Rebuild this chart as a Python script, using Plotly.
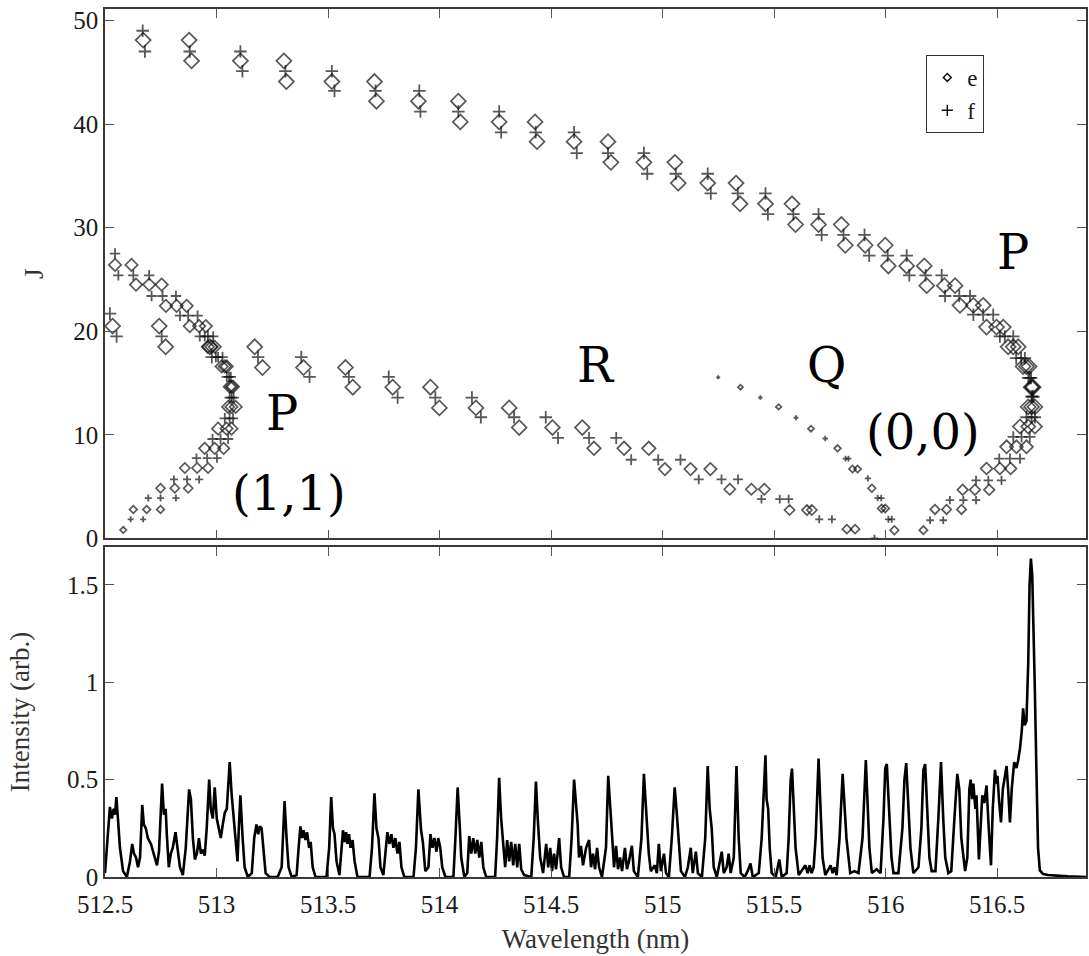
import plotly.graph_objects as go

# ---------------- top panel: line positions (wavelength in nm) grouped by J row ----------------
# P branch (0,0)
p00_e_J = [48.1, 46.1, 44.1, 42.2, 40.2, 38.3, 36.3, 34.3, 32.3, 30.3, 28.3, 26.3, 24.4, 22.5, 20.4,
           18.5, 16.6, 14.6, 12.7, 10.8, 8.85, 6.75, 4.7, 2.8, 0.8]
p00_e_wl = [[512.671, 512.877], [512.888, 513.107, 513.302], [513.313, 513.517, 513.708],
            [513.717, 513.905, 514.084], [514.093, 514.267, 514.428], [514.437, 514.603, 514.755],
            [514.768, 514.916, 515.055], [515.070, 515.202, 515.329], [515.347, 515.461, 515.580],
            [515.596, 515.699, 515.801], [515.819, 515.908, 515.998], [516.012, 516.094, 516.173],
            [516.184, 516.263, 516.311], [516.333, 516.393, 516.437], [516.452, 516.497, 516.527],
            [516.549, 516.572, 516.594], [516.616, 516.631, 516.643], [516.652, 516.657, 516.661],
            [516.639, 516.654, 516.669], [516.602, 516.639, 516.669], [516.542, 516.586, 516.631],
            [516.452, 516.512, 516.560], [516.345, 516.400, 516.464], [516.221, 516.273, 516.340],
            [516.169]]
p00_f_J = [49.0, 47.0, 45.1, 43.2, 41.2, 39.2, 37.2, 35.2, 33.3, 31.3, 29.3, 27.3, 25.4, 23.4, 21.6,
           19.5, 17.4, 15.5, 13.7, 11.7, 9.8, 7.7, 5.6, 3.7, 1.76]
p00_f_wl = [[512.669], [512.679, 512.880, 513.107], [513.116, 513.309, 513.517],
            [513.529, 513.713, 513.909], [513.914, 514.084, 514.267], [514.276, 514.431, 514.603],
            [514.615, 514.755, 514.916], [514.931, 515.059, 515.202], [515.216, 515.337, 515.461],
            [515.472, 515.586, 515.699], [515.713, 515.811, 515.905], [515.926, 516.009, 516.094],
            [516.106, 516.179, 516.251], [516.266, 516.330, 516.378], [516.393, 516.437, 516.482],
            [516.512, 516.534, 516.572], [516.585, 516.607, 516.624], [516.639, 516.646, 516.652],
            [516.654, 516.658, 516.662], [516.631, 516.654, 516.669], [516.572, 516.609, 516.646],
            [516.509, 516.557, 516.602], [516.405, 516.460, 516.519], [516.288, 516.348, 516.405],
            [516.199, 516.258]]

# R branch (0,0)
r00_e_J = [20.5, 18.5, 16.5, 14.6, 12.6, 10.7, 8.7, 6.7, 4.75, 2.75, 0.9]
r00_e_wl = [[512.534, 512.743], [512.772, 512.970, 513.171], [513.206, 513.390, 513.578],
            [513.611, 513.790, 513.959], [513.999, 514.163, 514.312], [514.357, 514.506, 514.640],
            [514.692, 514.827, 514.938], [515.010, 515.125, 515.214], [515.301, 515.398, 515.456],
            [515.569, 515.647, 515.669], [515.826, 515.863]]
r00_f_J = [21.7, 19.5, 17.5, 15.6, 13.6, 11.7, 9.7, 7.6, 5.7, 3.8, 1.85]
r00_f_wl = [[512.522], [512.552, 512.754, 512.961], [512.979, 513.186, 513.380],
            [513.417, 513.593, 513.772], [513.812, 513.981, 514.145], [514.185, 514.334, 514.476],
            [514.531, 514.670, 514.792], [514.859, 514.980, 515.080], [515.162, 515.264, 515.338],
            [515.443, 515.525, 515.565], [515.702, 515.759]]

# Q branch (0,0)
q00_e_J = [14.6, 12.7, 10.6, 8.7, 6.7, 4.85, 2.9, 0.8]
q00_e_wl = [[515.349], [515.520], [515.665], [515.784], [515.851, 515.874], [515.938],
            [515.982, 515.998], [516.039]]
q00_f_J = [15.55, 13.6, 11.65, 9.65, 7.7, 5.8, 3.9, 1.85, 0.0]
q00_f_wl = [[515.249], [515.438], [515.598], [515.729], [515.820, 515.833], [515.920],
            [515.964, 515.980], [516.012, 516.027], [515.950]]

# P branch (1,1)
p11_e_J = [26.4, 24.5, 22.45, 20.5, 18.5, 16.6, 14.65, 12.7, 10.6, 8.7, 6.8, 4.85, 2.8, 0.82]
p11_e_wl = [[512.545, 512.619], [512.639, 512.698, 512.754], [512.773, 512.821, 512.866],
            [512.880, 512.922, 512.952], [512.961, 512.977, 512.992], [513.023, 513.037, 513.046],
            [513.059, 513.067, 513.074], [513.052, 513.067, 513.086], [513.007, 513.045, 513.067],
            [512.947, 512.992, 513.032], [512.858, 512.913, 512.962], [512.749, 512.813, 512.873],
            [512.627, 512.687, 512.749], [512.582]]
p11_f_J = [27.5, 25.4, 23.4, 21.5, 19.5, 17.5, 15.6, 13.6, 11.6, 9.6, 7.75, 5.7, 3.9, 1.85]
p11_f_wl = [[512.545], [512.560, 512.627, 512.698], [512.709, 512.758, 512.818],
            [512.836, 512.873, 512.915], [512.925, 512.947, 512.985], [512.997, 513.007, 513.027],
            [513.046, 513.056, 513.064], [513.059, 513.068, 513.077], [513.037, 513.059, 513.074],
            [512.982, 513.018, 513.052], [512.910, 512.958, 513.002], [512.809, 512.868, 512.922],
            [512.694, 512.749, 512.818], [512.615, 512.671]]

# ---------------- bottom panel: spectrum ----------------
spec_wl = [512.500, 512.513, 512.522, 512.531, 512.539, 512.545, 512.551, 512.558, 512.567, 512.581,
           512.598, 512.612, 512.622, 512.630, 512.639, 512.648, 512.657, 512.667, 512.674, 512.683,
           512.692, 512.706, 512.719, 512.733, 512.742, 512.748, 512.756, 512.764, 512.772, 512.777,
           512.786, 512.795, 512.804, 512.816, 512.827, 512.836, 512.849, 512.862, 512.877, 512.885,
           512.894, 512.903, 512.912, 512.921, 512.930, 512.939, 512.947, 512.956, 512.967, 512.974,
           512.983, 512.992, 513.001, 513.010, 513.019, 513.028, 513.037, 513.046, 513.053, 513.059,
           513.068, 513.077, 513.086, 513.094, 513.100, 513.107, 513.117, 513.126, 513.140, 513.158,
           513.169, 513.179, 513.187, 513.194, 513.202, 513.211, 513.220, 513.238, 513.274, 513.292,
           513.299, 513.305, 513.314, 513.323, 513.337, 513.359, 513.368, 513.376, 513.384, 513.390,
           513.399, 513.406, 513.415, 513.422, 513.431, 513.444, 513.493, 513.505, 513.514, 513.522,
           513.529, 513.538, 513.551, 513.560, 513.567, 513.574, 513.581, 513.587, 513.594, 513.601,
           513.610, 513.619, 513.632, 513.686, 513.697, 513.708, 513.717, 513.726, 513.735, 513.748,
           513.757, 513.766, 513.775, 513.784, 513.793, 513.802, 513.811, 513.820, 513.829, 513.842,
           513.883, 513.894, 513.905, 513.917, 513.925, 513.936, 513.950, 513.959, 513.968, 513.977,
           513.986, 513.994, 514.003, 514.012, 514.026, 514.062, 514.071, 514.081, 514.091, 514.097,
           514.111, 514.124, 514.133, 514.142, 514.151, 514.160, 514.169, 514.178, 514.187, 514.196,
           514.209, 514.249, 514.258, 514.267, 514.276, 514.285, 514.294, 514.303, 514.312, 514.321,
           514.330, 514.339, 514.348, 514.357, 514.366, 514.379, 514.411, 514.422, 514.432, 514.440,
           514.451, 514.464, 514.478, 514.487, 514.496, 514.504, 514.513, 514.522, 514.536, 514.545,
           514.558, 514.581, 514.592, 514.603, 514.612, 514.619, 514.625, 514.634, 514.643, 514.657,
           514.670, 514.679, 514.688, 514.697, 514.706, 514.715, 514.728, 514.746, 514.756, 514.764,
           514.773, 514.782, 514.791, 514.800, 514.809, 514.818, 514.831, 514.840, 514.849, 514.862,
           514.871, 514.889, 514.905, 514.916, 514.923, 514.930, 514.938, 514.947, 514.965, 514.974,
           514.983, 514.992, 515.006, 515.015, 515.028, 515.041, 515.054, 515.062, 515.073, 515.082,
           515.100, 515.113, 515.126, 515.135, 515.149, 515.158, 515.176, 515.191, 515.202, 515.211,
           515.220, 515.229, 515.243, 515.252, 515.265, 515.274, 515.287, 515.296, 515.305, 515.319,
           515.331, 515.341, 515.350, 515.368, 515.381, 515.394, 515.404, 515.431, 515.444, 515.452,
           515.461, 515.466, 515.473, 515.480, 515.489, 515.507, 515.523, 515.534, 515.556, 515.565,
           515.574, 515.580, 515.587, 515.596, 515.610, 515.640, 515.650, 515.659, 515.668, 515.677,
           515.686, 515.699, 515.708, 515.717, 515.729, 515.753, 515.762, 515.771, 515.780, 515.793,
           515.807, 515.815, 515.824, 515.841, 515.860, 515.878, 515.896, 515.911, 515.918, 515.927,
           515.938, 515.959, 515.977, 515.990, 515.998, 516.005, 516.015, 516.026, 516.035, 516.057,
           516.075, 516.084, 516.092, 516.102, 516.111, 516.124, 516.147, 516.160, 516.169, 516.177,
           516.187, 516.196, 516.206, 516.223, 516.236, 516.248, 516.258, 516.267, 516.281, 516.294,
           516.308, 516.321, 516.330, 516.339, 516.356, 516.366, 516.375, 516.381, 516.388, 516.393,
           516.402, 516.407, 516.418, 516.426, 516.433, 516.442, 516.452, 516.462, 516.472, 516.480,
           516.490, 516.496, 516.501, 516.509, 516.517, 516.525, 516.531, 516.542, 516.549, 516.557,
           516.565, 516.576, 516.586, 516.594, 516.602, 516.610, 516.616, 516.623, 516.631, 516.639,
           516.645, 516.651, 516.657, 516.661, 516.668, 516.676, 516.683, 516.691, 516.706, 516.728,
           516.773, 516.818, 516.898]
spec_int = [0.02, 0.25, 0.36, 0.30, 0.35, 0.32, 0.41, 0.30, 0.15, 0.03,
            0.00, 0.08, 0.17, 0.12, 0.10, 0.05, 0.10, 0.37, 0.27, 0.25,
            0.20, 0.17, 0.12, 0.06, 0.13, 0.30, 0.48, 0.32, 0.35, 0.22,
            0.05, 0.12, 0.15, 0.23, 0.12, 0.05, 0.01, 0.15, 0.45, 0.40,
            0.20, 0.09, 0.12, 0.20, 0.12, 0.14, 0.11, 0.25, 0.50, 0.35,
            0.30, 0.46, 0.30, 0.25, 0.20, 0.27, 0.33, 0.35, 0.50, 0.59,
            0.42, 0.30, 0.15, 0.08, 0.25, 0.42, 0.20, 0.05, 0.00, 0.02,
            0.20, 0.27, 0.22, 0.26, 0.25, 0.12, 0.02, 0.00, 0.00, 0.05,
            0.25, 0.39, 0.20, 0.05, 0.00, 0.01, 0.15, 0.26, 0.20, 0.24,
            0.19, 0.23, 0.15, 0.18, 0.05, 0.00, 0.00, 0.15, 0.41, 0.25,
            0.22, 0.08, 0.01, 0.12, 0.24, 0.18, 0.23, 0.17, 0.22, 0.15,
            0.19, 0.08, 0.00, 0.00, 0.15, 0.43, 0.25, 0.20, 0.05, 0.01,
            0.12, 0.23, 0.17, 0.22, 0.15, 0.20, 0.12, 0.18, 0.05, 0.00,
            0.00, 0.15, 0.45, 0.24, 0.18, 0.03, 0.05, 0.22, 0.15, 0.20,
            0.13, 0.20, 0.15, 0.05, 0.00, 0.00, 0.20, 0.46, 0.25, 0.10,
            0.00, 0.02, 0.21, 0.12, 0.20, 0.12, 0.19, 0.10, 0.18, 0.05,
            0.00, 0.00, 0.20, 0.51, 0.30, 0.18, 0.05, 0.19, 0.08, 0.18,
            0.06, 0.17, 0.05, 0.17, 0.04, 0.01, 0.00, 0.20, 0.49, 0.30,
            0.10, 0.02, 0.17, 0.05, 0.15, 0.03, 0.12, 0.04, 0.20, 0.05,
            0.00, 0.00, 0.20, 0.50, 0.35, 0.27, 0.10, 0.16, 0.06, 0.15,
            0.19, 0.05, 0.12, 0.04, 0.15, 0.05, 0.00, 0.15, 0.52, 0.35,
            0.22, 0.05, 0.16, 0.04, 0.10, 0.03, 0.15, 0.04, 0.08, 0.16,
            0.03, 0.00, 0.20, 0.53, 0.38, 0.30, 0.12, 0.03, 0.06, 0.02,
            0.17, 0.03, 0.12, 0.02, 0.00, 0.20, 0.46, 0.35, 0.15, 0.03,
            0.00, 0.05, 0.15, 0.02, 0.13, 0.02, 0.00, 0.20, 0.57, 0.35,
            0.25, 0.05, 0.00, 0.05, 0.13, 0.02, 0.05, 0.12, 0.02, 0.10,
            0.57, 0.20, 0.02, 0.00, 0.03, 0.07, 0.00, 0.02, 0.20, 0.40,
            0.625, 0.40, 0.35, 0.15, 0.02, 0.00, 0.09, 0.00, 0.02, 0.20,
            0.50, 0.557, 0.35, 0.15, 0.01, 0.06, 0.02, 0.06, 0.02, 0.05,
            0.20, 0.608, 0.35, 0.10, 0.01, 0.06, 0.02, 0.05, 0.01, 0.20,
            0.53, 0.40, 0.20, 0.02, 0.03, 0.02, 0.20, 0.60, 0.40, 0.15,
            0.02, 0.04, 0.02, 0.30, 0.56, 0.58, 0.35, 0.10, 0.02, 0.02,
            0.25, 0.50, 0.585, 0.35, 0.15, 0.02, 0.05, 0.25, 0.55, 0.58,
            0.30, 0.10, 0.03, 0.03, 0.30, 0.59, 0.30, 0.10, 0.02, 0.03,
            0.30, 0.53, 0.45, 0.20, 0.03, 0.10, 0.45, 0.50, 0.40, 0.48,
            0.35, 0.42, 0.09, 0.30, 0.42, 0.38, 0.47, 0.25, 0.06, 0.35,
            0.55, 0.48, 0.52, 0.38, 0.28, 0.45, 0.50, 0.57, 0.45, 0.28,
            0.45, 0.59, 0.56, 0.60, 0.66, 0.75, 0.866, 0.78, 0.80, 1.10,
            1.50, 1.635, 1.55, 1.39, 1.00, 0.53, 0.15, 0.034, 0.015, 0.01,
            0.005, 0.003, 0.0]

# band labels placed in data coordinates
labels = ["P", "R", "Q", "(0,0)", "P", "(1,1)"]
label_wl = [516.572, 514.701, 515.735, 516.169, 513.292, 513.323]
label_J = [27.65, 16.75, 16.75, 10.3, 12.1, 4.4]

INK = "#111111"
FONT = "Liberation Serif"
LABEL_FONT = "DejaVu Serif"


def flat(rows_J, rows_wl):
    xs, ys = [], []
    for J, wls in zip(rows_J, rows_wl):
        for w in wls:
            xs.append(w)
            ys.append(J)
    return xs, ys


def size_rule(branch, J):
    if branch == "p00":
        return min(11.5, 6.0 + 0.45 * J)
    if branch == "r00":
        return min(11.5, 6.5 + 0.45 * J)
    if branch == "q00":
        return max(3.6, 6.8 - 0.2 * J)
    return min(9.5, 4.5 + 0.5 * J)


branches = [
    ("p00", p00_e_J, p00_e_wl, p00_f_J, p00_f_wl),
    ("r00", r00_e_J, r00_e_wl, r00_f_J, r00_f_wl),
    ("q00", q00_e_J, q00_e_wl, q00_f_J, q00_f_wl),
    ("p11", p11_e_J, p11_e_wl, p11_f_J, p11_f_wl),
]

fig = go.Figure()

for name, eJ, ewl, fJ, fwl in branches:
    ex, ey = flat(eJ, ewl)
    fx, fy = flat(fJ, fwl)
    fig.add_trace(go.Scatter(
        x=ex, y=ey, mode="markers", xaxis="x", yaxis="y", showlegend=False,
        marker=dict(symbol="diamond-open", size=[size_rule(name, j) for j in ey],
                    color=INK, line=dict(color=INK, width=1.7)),
        hoverinfo="skip"))
    fig.add_trace(go.Scatter(
        x=fx, y=fy, mode="markers", xaxis="x", yaxis="y", showlegend=False,
        marker=dict(symbol="cross-thin-open", size=[0.78 * size_rule(name, j) for j in fy],
                    color=INK, line=dict(color=INK, width=1.8)),
        hoverinfo="skip"))

# legend entries
fig.add_trace(go.Scatter(x=[None], y=[None], mode="markers", name="e", xaxis="x", yaxis="y",
                         marker=dict(symbol="diamond-open", size=6, color=INK,
                                     line=dict(color=INK, width=1.5))))
fig.add_trace(go.Scatter(x=[None], y=[None], mode="markers", name="f", xaxis="x", yaxis="y",
                         marker=dict(symbol="cross-thin-open", size=8, color=INK,
                                     line=dict(color=INK, width=1.5))))

fig.add_trace(go.Scatter(x=spec_wl, y=spec_int, mode="lines", xaxis="x2", yaxis="y2",
                         showlegend=False, line=dict(color="black", width=2.6),
                         hoverinfo="skip"))

for t, xw, yj in zip(labels, label_wl, label_J):
    fig.add_annotation(x=xw, y=yj, xref="x", yref="y", text=t, showarrow=False,
                       font=dict(family=LABEL_FONT, size=48, color="black"))

axis_common = dict(showline=True, linecolor="#3a3a3a", linewidth=1.6, mirror="allticks",
                   ticks="inside", ticklen=9, tickwidth=1.1, tickcolor="#555555",
                   showgrid=False, zeroline=False,
                   tickfont=dict(family=FONT, size=25, color="#1a1a1a"))

fig.update_layout(
    width=1089, height=956,
    margin=dict(l=105, r=1, t=9, b=79),
    paper_bgcolor="white", plot_bgcolor="white",
    font=dict(family=FONT, color="#1a1a1a"),
    xaxis=dict(domain=[0, 1], anchor="y", range=[512.5, 516.898], tick0=512.5, dtick=0.5,
               showticklabels=False, **axis_common),
    yaxis=dict(domain=[0.390, 1.0], anchor="x", range=[0, 51.1], tick0=0, dtick=10,
               title=dict(text="J", font=dict(family=FONT, size=27, color="#333333"), standoff=22),
               **axis_common),
    xaxis2=dict(domain=[0, 1], anchor="y2", range=[512.5, 516.898], tick0=512.5, dtick=0.5,
                ticklabelstandoff=4,
                title=dict(text="Wavelength (nm)", font=dict(family=FONT, size=27, color="#333333"),
                           standoff=12),
                **axis_common),
    yaxis2=dict(domain=[0, 0.3802], anchor="x2", range=[0, 1.695],
                tickvals=[0, 0.5, 1, 1.5], ticktext=["0", "0.5", "1", "1.5"],
                title=dict(text="Intensity (arb.)", font=dict(family=FONT, size=27, color="#333333"),
                           standoff=29),
                **axis_common),
    legend=dict(x=0.8372, y=0.947, xanchor="left", yanchor="top", bgcolor="white",
                bordercolor="#333333", borderwidth=1, font=dict(family=FONT, size=23),
                itemwidth=30, tracegroupgap=0),
)

fig.write_html("out.html")
